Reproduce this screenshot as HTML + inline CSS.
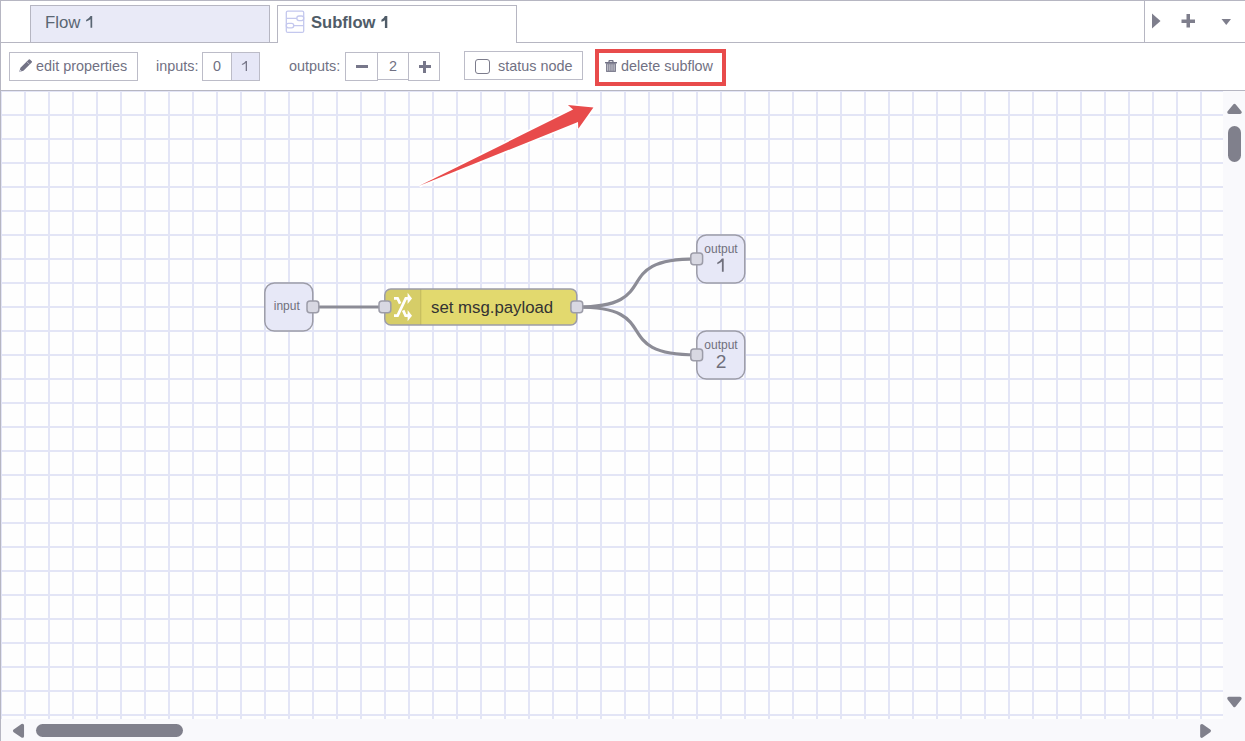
<!DOCTYPE html>
<html><head><meta charset="utf-8">
<style>
html,body{margin:0;padding:0;width:1245px;height:741px;overflow:hidden;background:#fff;}
body{position:relative;font-family:"Liberation Sans",sans-serif;}
.abs{position:absolute;box-sizing:border-box;}
#topb{left:0;top:0;width:1245px;height:1px;background:#b6b6c2;}
#leftb{left:0;top:0;width:1px;height:741px;background:#b6b6c2;}
#tabline{left:0;top:42px;width:1245px;height:1px;background:#b6b6c2;}
#tab1{left:30px;top:5px;width:240px;height:37px;background:#e9eaf7;border:1px solid #b6b6c2;border-bottom:none;}
#tab1 span{position:absolute;left:14px;top:6.5px;font-size:16.8px;color:#5a6673;}
#tab2{left:277px;top:5px;width:240px;height:38px;background:#fff;border:1px solid #b6b6c2;border-bottom:none;}
#tab2 span{position:absolute;left:33px;top:6.9px;font-size:16.6px;font-weight:bold;color:#505c68;}
#tabdiv{left:1144px;top:0;width:1px;height:42px;background:#b6b6c2;}
#toolline{left:0;top:90px;width:1245px;height:1px;background:#b6b6c2;}
.btn{border:1px solid #bcbcc8;background:#fff;height:29px;top:52px;font-size:14.4px;color:#717183;line-height:27px;white-space:nowrap;}
.lbl{font-size:14.4px;color:#717183;top:58px;white-space:nowrap;}
#canvas{left:1px;top:91px;width:1222px;height:628px;background-color:#fefefe;
 background-image:linear-gradient(to right,#e3e5f6 2px,transparent 2px),linear-gradient(to bottom,#e3e5f6 2px,transparent 2px);
 background-size:24px 24px;background-position:23px -1px;}
#vscroll{left:1223px;top:91px;width:22px;height:650px;background:#f9f9fc;}
#hscroll{left:1px;top:719px;width:1244px;height:22px;background:#f9f9fc;}
</style></head>
<body>
<div class="abs" id="canvas"></div>
<div class="abs" id="vscroll"></div>
<div class="abs" id="hscroll"></div>
<div class="abs" id="topb"></div>
<div class="abs" id="tabline"></div>
<div class="abs" id="tab1"><span>Flow</span></div>
<div class="abs" id="tab2"><span>Subflow</span>
</div>
<svg class="abs" style="left:0;top:0" width="320" height="42" viewBox="0 0 320 42">
 <g fill="none" stroke="#c4c8ee" stroke-width="1.3">
  <rect x="286.3" y="11.1" width="17.4" height="21.3" rx="1.5"/>
  <path d="M286.3 18.3H296.9 M293.7 25.6H303.7"/>
  <rect x="296.9" y="16" width="6.8" height="4.6" rx="2.1"/>
  <rect x="286.3" y="23.3" width="7.4" height="4.5" rx="2.1"/>
 </g>
</svg>
<div class="abs" id="tabdiv"></div>
<!-- tab controls -->
<svg class="abs" style="left:1145px;top:1px" width="100" height="41" viewBox="0 0 100 41">
 <g fill="#7e7e8c">
  <path d="M7 12.5 L15.5 20 L7 27.5Z"/>
  <rect x="36.5" y="18.5" width="13.5" height="3.5"/>
  <rect x="41.5" y="13" width="3.5" height="13.5"/>
  <path d="M76.5 18 L86 18 L81.25 24Z"/>
 </g>
</svg>
<div class="abs" id="toolline"></div>


<!-- toolbar -->
<div class="abs btn" style="left:9px;width:129px;">
 <svg style="position:absolute;left:-10px;top:-53px" width="40" height="92" viewBox="0 0 40 92">
  <g transform="translate(24.9,66.3) rotate(-45)">
   <path d="M-4.2 -2.1 H7.6 A0.8 0.8 0 0 1 8.4 -1.3 V1.3 A0.8 0.8 0 0 1 7.6 2.1 H-4.2 L-8.2 0Z" fill="#737386"/>
   <path d="M4.6 -2.3 V2.3" stroke="#c9c9d4" stroke-width="0.7"/>
   <path d="M-8.3 0 L-5.8 -1 V1Z" fill="#e0e0ea"/>
  </g>
 </svg>
 <span style="position:absolute;left:26px;top:0">edit properties</span>
</div>
<div class="abs lbl" style="left:156px;">inputs:</div>
<div class="abs btn" style="left:202px;width:30px;text-align:center;">0</div>
<div class="abs btn" style="left:231px;width:29px;text-align:center;background:#e6e7f7;"></div>
<div class="abs lbl" style="left:289px;">outputs:</div>
<div class="abs btn" style="left:345px;width:33px;"><div style="position:absolute;left:10px;top:12px;width:12px;height:3px;background:#77778a"></div></div>
<div class="abs btn" style="left:377px;width:32px;text-align:center;height:28px;">2</div>
<div class="abs btn" style="left:408px;width:32px;">
 <div style="position:absolute;left:9.5px;top:12px;width:12px;height:3px;background:#77778a"></div>
 <div style="position:absolute;left:14px;top:7.5px;width:3px;height:12px;background:#77778a"></div>
</div>
<div class="abs btn" style="left:464px;width:119px;top:51px;">
 <div style="position:absolute;left:9.8px;top:7px;width:15px;height:15px;box-sizing:border-box;border:1.5px solid #7c7c8c;border-radius:3px;"></div>
 <span style="position:absolute;left:33px;top:1px">status node</span>
</div>
<div class="abs btn" style="left:598px;width:125px;top:51px;border-color:transparent;background:transparent;">
 <svg style="position:absolute;left:-599px;top:-52px" width="640" height="80" viewBox="0 0 640 80"><g fill="#737386">
  <rect x="605" y="62" width="12" height="1.4"/>
  <path d="M608.2 62.2 L608.8 60 H613.2 L613.8 62.2 H612.5 L612.2 61.2 H609.8 L609.5 62.2Z"/>
  <path d="M606.1 63.2 H615.9 V71.9 H606.1Z"/>
 </g>
 <g fill="#fff" fill-opacity="0.75"><rect x="607.3" y="64.2" width="1" height="6.6"/><rect x="609.4" y="64.2" width="1" height="6.6"/><rect x="611.5" y="64.2" width="1" height="6.6"/><rect x="613.6" y="64.2" width="1" height="6.6"/></g>
 </svg>
 <span style="position:absolute;left:22px;top:1px">delete subflow</span>
</div>
<div class="abs" style="left:595px;top:49px;width:131px;height:37px;border:4px solid #e84b4b;"></div>

<svg class="abs" style="left:0;top:0" width="400" height="80" viewBox="0 0 400 80">
 <path d="M90.5 16 H92.2 V27.8 H90.5 V19.2 Q88.7 20.7 86.1 21.5 V19.9 Q89.1 18.6 90.5 16Z" fill="#5a6673"/>
 <path d="M384.9 16.1 H387.3 V27.9 H384.9 V20.2 Q383.3 21.2 381.4 21.7 V19.8 Q383.8 18.8 384.9 16.1Z" fill="#505c68"/>
 <path d="M245.7 61 H247 V71 H245.7 V63.1 Q244.2 64.5 241.9 65.1 V63.9 Q244.4 62.9 245.7 61Z" fill="#767688"/>
</svg>
<!-- nodes -->
<svg class="abs" style="left:0;top:0" width="1245" height="741" viewBox="0 0 1245 741">
 <g fill="none" stroke="#8c8c96" stroke-width="3.2">
  <path d="M313 307 L384 307"/>
  <path d="M577 307 C666 307 607 258.8 696 258.8"/>
  <path d="M577 307 C666 307 607 354.8 696 354.8"/>
 </g>
 <g stroke="#9c9ca8" stroke-width="1.5">
  <rect x="264.8" y="282.9" width="48" height="48.2" rx="9.6" fill="#e7e8f7"/>
  <rect x="696.8" y="234.9" width="48" height="48.2" rx="9.6" fill="#e7e8f7"/>
  <rect x="696.8" y="330.9" width="48" height="48.2" rx="9.6" fill="#e7e8f7"/>
  <rect x="384.8" y="288.9" width="192" height="36.2" rx="6" fill="#e2d96e"/>
 </g>
 <path d="M391 289.65 H420.8 V324.35 H391 A5.4 5.4 0 0 1 385.55 318.9 V295.1 A5.4 5.4 0 0 1 391 289.65Z" fill="#000" fill-opacity="0.05"/>
 <path d="M420.8 289.6 V324.4" stroke="#000" stroke-opacity="0.1" stroke-width="1.2"/>
 <g fill="none" stroke="#fff" stroke-width="2.7" stroke-linejoin="miter">
  <path d="M394 298.4 H397.6 L400.1 303.7"/>
  <path d="M403.2 310.4 L405.6 315.7 H409"/>
  <path d="M394 315.7 H397.6 L405.8 298.4 H409"/>
 </g>
 <g fill="#fff">
  <path d="M407.6 292.8 L412 298.4 L407.6 304Z"/>
  <path d="M407.6 310.1 L412 315.7 L407.6 321.3Z"/>
 </g>
 <g stroke="#9c9ca8" stroke-width="1.5" fill="#d8d8e2">
  <rect x="307.0" y="301.0" width="11.8" height="11.8" rx="3"/>
  <rect x="379.0" y="301.0" width="11.8" height="11.8" rx="3"/>
  <rect x="570.9" y="301.0" width="11.8" height="11.8" rx="3"/>
  <rect x="690.8" y="252.9" width="11.8" height="11.8" rx="3"/>
  <rect x="690.8" y="348.9" width="11.8" height="11.8" rx="3"/>
 </g>
 <g font-family="Liberation Sans" fill="#70707c">
  <text x="286.8" y="310" font-size="12" text-anchor="middle">input</text>
  <text x="721" y="253" font-size="12" text-anchor="middle">output</text>
  <path d="M721.9 258.6 H723.7 V271.8 H721.9 V261.6 Q720.1 263.3 717.3 264.2 V262.4 Q720.4 261.1 721.9 258.6Z"/>
  <text x="721" y="349" font-size="12" text-anchor="middle">output</text>
  <text x="721" y="368" font-size="19.2" text-anchor="middle">2</text>
 </g>
 <text x="431" y="313" font-family="Liberation Sans" font-size="16.8" fill="#333">set msg.payload</text>
 <!-- arrow -->
 <path d="M419.4 185.8 L573.1 109.6 L567.9 105 L593.4 107.4 L578.3 128.7 L578 122 Z" fill="#e84b4b" stroke="#fff" stroke-width="3.5" stroke-linejoin="miter" stroke-miterlimit="3" paint-order="stroke"/>
 <!-- scroll widgets -->
 <g fill="#80808c" stroke="#80808c" stroke-width="3.3" stroke-linejoin="round">
  <path d="M1234.5 105.6 L1240.1 112.3 L1228.9 112.3Z"/>
  <path d="M1228.9 698.4 L1240 698.4 L1234.45 705.6Z"/>
  <path d="M22.4 725.4 L22.4 736.2 L14.6 730.8Z"/>
  <path d="M1201.8 725.6 L1209.3 730.9 L1201.8 736.2Z"/>
 </g>
 <g fill="#80808c">
  <rect x="1228" y="126" width="13" height="36" rx="6.5"/>
  <rect x="36" y="724" width="147" height="13" rx="6.5"/>
 </g>
</svg>
<div class="abs" id="leftb"></div>
</body></html>
